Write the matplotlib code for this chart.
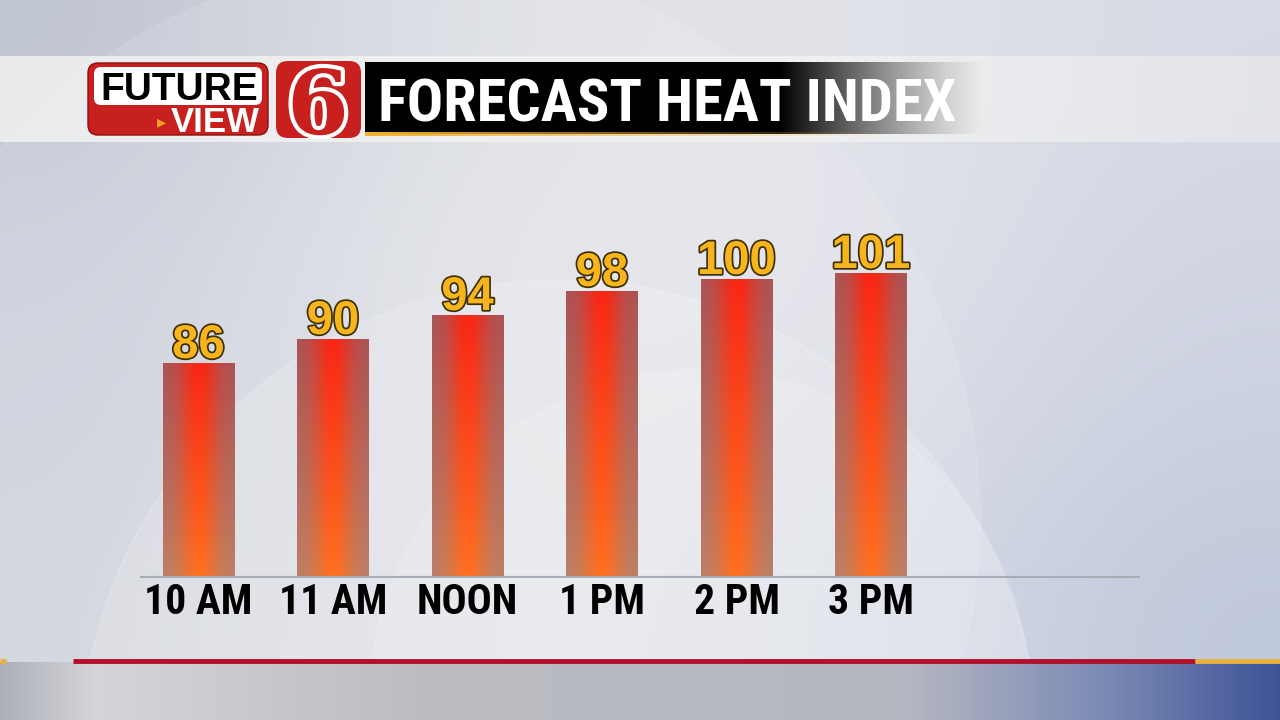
import numpy as np
import matplotlib
matplotlib.use("Agg")
import matplotlib.pyplot as plt
import matplotlib.patheffects as pe
from matplotlib.patches import FancyBboxPatch, Circle
from matplotlib import font_manager

# data
hours = ["10 AM", "11 AM", "NOON", "1 PM", "2 PM", "3 PM"]
heat_index = [86, 90, 94, 98, 100, 101]

names = {f.name for f in font_manager.fontManager.ttflist}
cond = "Liberation Sans"
for cand in ["Roboto Condensed", "Archivo Narrow", "PT Sans Narrow", "IBM Plex Sans Condensed",
             "Open Sans Condensed"]:
    if cand in names:
        cond = cand
        break

W, H = 1280, 720
fig = plt.figure(figsize=(12.8, 7.2), dpi=100)

# ---- background (pixel coords, y down)
bg = fig.add_axes([0, 0, 1, 1])
bg.set_xlim(0, W)
bg.set_ylim(H, 0)
bg.axis("off")

grid = np.array([
    [(192, 197, 210), (216, 219, 226), (227, 228, 233), (224, 226, 233), (216, 219, 229)],
    [(202, 206, 218), (223, 225, 231), (230, 231, 235), (225, 227, 234), (210, 214, 227)],
    [(206, 209, 220), (222, 224, 230), (228, 229, 234), (220, 223, 231), (204, 209, 224)],
    [(210, 212, 220), (222, 224, 230), (225, 227, 232), (214, 218, 229), (192, 200, 220)],
]) / 255.0
bg.imshow(grid, extent=[0, W, 662, 0], interpolation="bicubic", aspect="auto", zorder=0)

# faint arcs
for cx, cy, r, a in [(560, 760, 480, 0.16), (700, 700, 330, 0.14), (420, 520, 560, 0.10)]:
    bg.add_patch(Circle((cx, cy), r, facecolor="white", alpha=a, edgecolor="white",
                        lw=1.2, zorder=1))

# lighter band behind the title
band = np.ones((1, 64, 4))
band[..., :3] = 0.95
band[0, :, 3] = np.concatenate([np.full(40, 0.85), np.linspace(0.85, 0.45, 24)])
bg.imshow(band, extent=[0, W, 142, 56], aspect="auto", interpolation="bilinear", zorder=2)

# bottom strip
px = np.arange(W)
stops = [0, 95, 430, 900, 1100, 1280]
stop_cols = np.array([(172, 175, 183), (212, 213, 217), (186, 188, 193), (182, 184, 194),
                      (125, 140, 182), (62, 82, 150)]) / 255.0
strip = np.stack([np.interp(px, stops, stop_cols[:, k]) for k in range(3)], axis=-1)[None]
bg.imshow(strip, extent=[0, W, H, 662], aspect="auto", interpolation="bilinear", zorder=2)
bg.plot([73, 1195], [661, 661], color="#b0102a", lw=3.5, solid_capstyle="butt", zorder=3)
bg.plot([0, 6], [661, 661], color="#e8b040", lw=3.5, solid_capstyle="butt", zorder=3)
bg.plot([1195, W], [661, 661], color="#e8b040", lw=3.5, solid_capstyle="butt", zorder=3)

# logo
bg.add_patch(FancyBboxPatch((88, 63), 180, 72, boxstyle="round,pad=0,rounding_size=10",
                            facecolor="#c8201e", edgecolor="#8a1010", lw=1, zorder=4))
bg.add_patch(FancyBboxPatch((94, 67), 168, 38, boxstyle="round,pad=0,rounding_size=7",
                            facecolor="white", edgecolor="none", zorder=5))
bg.text(179, 100, "FUTURE", ha="center", va="baseline", fontsize=28, fontweight="bold",
        family="Liberation Sans", color="black", zorder=6)
bg.text(161, 122, "\u25b8", ha="center", va="center", fontsize=13, color="#f5a020", zorder=6)
bg.text(215, 132, "VIEW", ha="center", va="baseline", fontsize=25, fontweight="bold",
        family="Liberation Sans", color="white", zorder=6)
bg.add_patch(FancyBboxPatch((276, 61), 85, 77, boxstyle="round,pad=0,rounding_size=12",
                            facecolor="#c8201e", edgecolor="none", zorder=4))
bg.text(318, 134, "6", ha="center", va="baseline", fontsize=64, fontweight="bold",
        family="DejaVu Serif", color="#c8201e", zorder=6,
        path_effects=[pe.withStroke(linewidth=6, foreground="white")])

# black title banner fading to the right
ban = np.zeros((1, 100, 4))
ban[0, :, 3] = np.concatenate([np.ones(66), np.linspace(1, 0, 34) ** 1.3])
bg.imshow(ban, extent=[365, 990, 134, 62], aspect="auto", interpolation="bilinear", zorder=4)
ylw = np.zeros((1, 60, 4))
ylw[..., 0], ylw[..., 1], ylw[..., 2] = 0.95, 0.7, 0.2
ylw[0, :, 3] = np.linspace(1, 0, 60)
bg.imshow(ylw, extent=[365, 900, 136, 132], aspect="auto", interpolation="bilinear", zorder=4)
bg.text(378, 122, "FORECAST HEAT INDEX", ha="left", va="baseline", fontsize=43.5,
        fontweight="bold", family=cond, color="white", zorder=6)

# ---- bars
ax = fig.add_axes([140 / W, 142 / H, 1000 / W, 378 / H])
ax.set_facecolor("none")
ax.set_xlim(-0.435, 7.0)
ax.set_ylim(50.33, 113.33)
ax.axis("off")

x = np.arange(len(hours))
width = 0.528
ax.bar(x, heat_index, width=width, color="none", zorder=2)

cols = np.linspace(-1, 1, 80)
rows = np.linspace(0, 1, 120)[:, None]  # 0 = top, 1 = bottom
centre = np.array([250, 38, 20]) / 255 * (1 - rows) + np.array([255, 112, 32]) / 255 * rows
edge = np.array([168, 86, 88]) / 255 * (1 - rows) + np.array([185, 128, 105]) / 255 * rows
wgt = np.exp(-(cols / 0.55) ** 2)[None, :, None]
img = centre[:, None, :] * wgt + edge[:, None, :] * (1 - wgt)
base = ax.get_ylim()[0]
for xi, v in zip(x, heat_index):
    ax.imshow(img, extent=[xi - width / 2, xi + width / 2, base, v], aspect="auto",
              interpolation="bilinear", zorder=2)
    ax.text(xi, v + 1.0, str(v), ha="center", va="baseline", fontsize=34, fontweight="bold",
            family="Liberation Sans", color="#f8b41c", zorder=4,
            path_effects=[pe.withStroke(linewidth=2.5, foreground="#3c3008")])
    ax.text(xi, base - 6.0, hours[xi], ha="center", va="baseline", fontsize=30,
            fontweight="bold", family=cond, color="black", zorder=4, clip_on=False)

ax.axhline(base, color="#a8acb6", lw=3, zorder=3)

fig.savefig("out.png", dpi=100)
